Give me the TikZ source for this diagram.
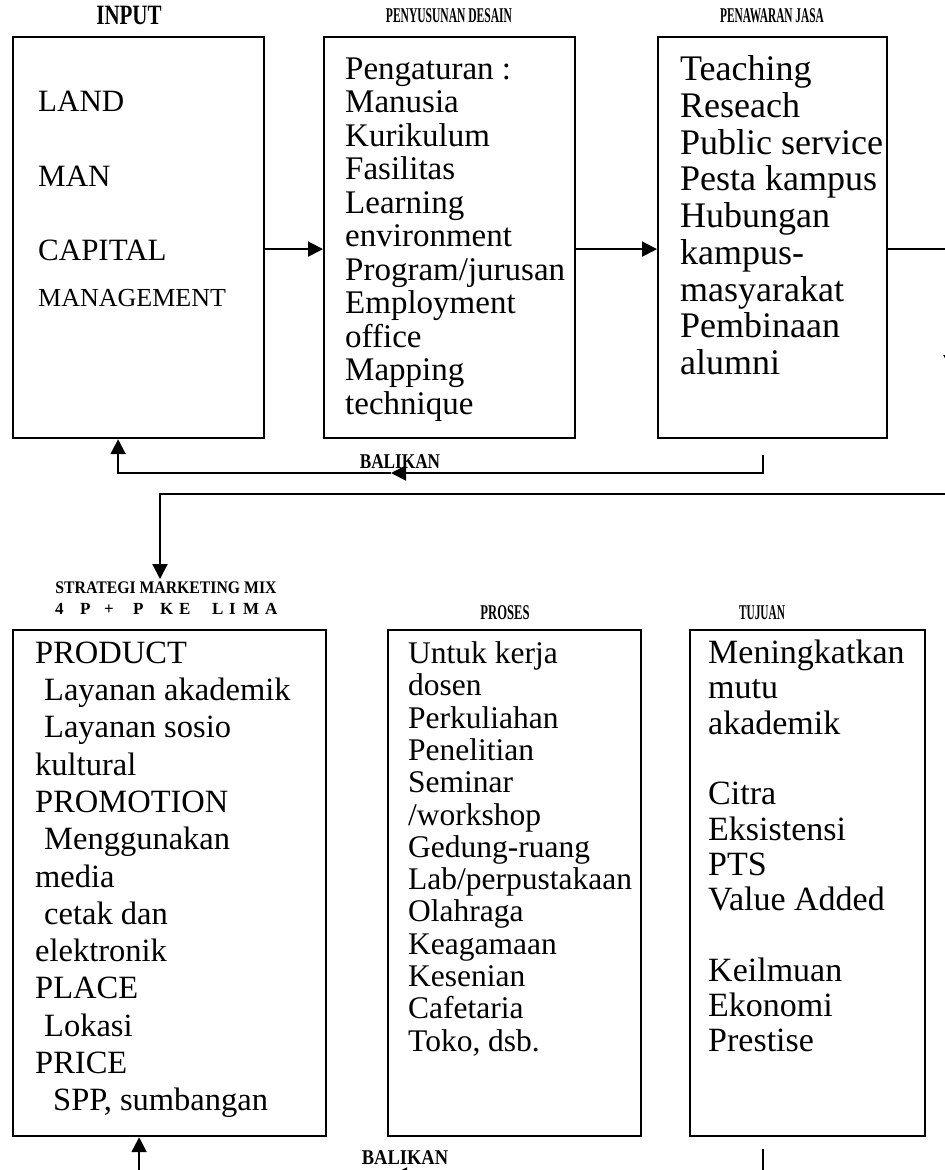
\documentclass[tikz,border=0pt]{standalone}
\usepackage{fontspec}
\setmainfont{Liberation Serif}
\usetikzlibrary{arrows.meta}

\begin{document}
\begin{tikzpicture}[
    x=1pt, y=-1pt,
    frame/.style={draw, line width=2.2pt, anchor=north west, inner sep=0pt},
    list/.style={anchor=north west, inner sep=0pt, align=left},
    title/.style={inner sep=0pt, font=\bfseries\fontsize{21}{21}\selectfont},
    arrow/.style={-{Triangle[length=15pt, width=15pt]}, line width=2pt}
]
    \useasboundingbox (0,0) rectangle (945,1170);
    \clip (0,0) rectangle (945,1170);

    % Top row
    \node[title, font=\bfseries\fontsize{28}{28}\selectfont] (inputtitle) at (129,15) {\scalebox{0.75}[1]{INPUT}};
    \node[title] (desaintitle) at (449,16) {\scalebox{0.55}[1]{PENYUSUNAN DESAIN}};
    \node[title] (jasatitle) at (772,16) {\scalebox{0.54}[1]{PENAWARAN JASA}};

    \node[frame, minimum width=251pt, minimum height=401pt] (input) at (12,36) {};
    \node[frame, minimum width=251pt, minimum height=401pt] (desain) at (323,36) {};
    \node[frame, minimum width=229pt, minimum height=401pt] (jasa) at (657,36) {};

    \node[list, font=\fontsize{31}{31}\selectfont] (inputlist) at ([shift={(26pt,-54.5pt)}]input.north west)
        {LAND\\[44pt]MAN\\[43pt]CAPITAL\\[15pt]{\fontsize{26}{31}\selectfont MANAGEMENT}};
    \node[list, font=\fontsize{33}{33.5}\selectfont] (desainlist) at ([shift={(22pt,-21.2pt)}]desain.north west)
        {Pengaturan :\\Manusia\\Kurikulum\\Fasilitas\\Learning\\environment\\Program/jurusan\\Employment\\office\\Mapping\\technique};
    \node[list, font=\fontsize{36}{36.75}\selectfont] (jasalist) at ([shift={(23pt,-19.4pt)}]jasa.north west)
        {Teaching\\Reseach\\Public service\\Pesta kampus\\Hubungan\\kampus-\\masyarakat\\Pembinaan\\alumni};

    % Bottom row
    \node[title, font=\bfseries\fontsize{17.7}{17.7}\selectfont] (mixtitle) at (166,587.5) {\scalebox{0.89}[1]{STRATEGI MARKETING MIX}};
    \node[title, anchor=west, font=\bfseries\fontsize{17}{17}\selectfont] (mixsub) at (55,609)
        {\makebox[25pt][l]{4}\makebox[24pt][l]{P}\makebox[29pt][l]{+}\makebox[27pt][l]{P}\makebox[19pt][l]{K}\makebox[33pt][l]{E}\makebox[17pt][l]{L}\makebox[14pt][l]{I}\makebox[22pt][l]{M}A};
    \node[title] (prosestitle) at (505,613) {\scalebox{0.6}[1]{PROSES}};
    \node[title] (tujuantitle) at (762,613) {\scalebox{0.54}[1]{TUJUAN}};

    \node[frame, minimum width=313pt, minimum height=506pt] (mix) at (12,629) {};
    \node[frame, minimum width=253pt, minimum height=506pt] (proses) at (387,629) {};
    \node[frame, minimum width=235pt, minimum height=506pt] (tujuan) at (689,629) {};

    \node[list, font=\fontsize{32.5}{37.3}\selectfont] (mixlist) at ([shift={(23pt,-12.5pt)}]mix.north west)
        {PRODUCT\\\hspace*{9pt}Layanan akademik\\\hspace*{9pt}Layanan sosio\\kultural\\PROMOTION\\\hspace*{9pt}Menggunakan\\media\\\hspace*{9pt}cetak dan\\elektronik\\PLACE\\\hspace*{9pt}Lokasi\\PRICE\\\hspace*{18pt}SPP, sumbangan};
    \node[list, font=\fontsize{31.5}{32.3}\selectfont] (proseslist) at ([shift={(21pt,-12.5pt)}]proses.north west)
        {Untuk kerja\\dosen\\Perkuliahan\\Penelitian\\Seminar\\/workshop\\Gedung-ruang\\Lab/perpustakaan\\Olahraga\\Keagamaan\\Kesenian\\Cafetaria\\Toko, dsb.};
    \node[list, font=\fontsize{34}{35.3}\selectfont] (tujuanlist) at ([shift={(19pt,-10.8pt)}]tujuan.north west)
        {Meningkatkan\\mutu\\akademik\\[35.3pt]Citra\\Eksistensi\\PTS\\Value Added\\[35.3pt]Keilmuan\\Ekonomi\\Prestise};

    % Arrows along the top
    \draw[arrow] ([yshift=-11.5pt]input.east) -- ([yshift=-11.5pt]input.east -| desain.west);
    \draw[arrow] ([yshift=-11.5pt]desain.east) -- ([yshift=-11.5pt]desain.east -| jasa.west);
    \coordinate (offdown) at (951,370);
    \draw[arrow] ([yshift=-11.5pt]jasa.east) -| (offdown);

    % Feedback (top)
    \coordinate (fbtop) at (763,455);
    \coordinate (fbmid) at (391,473);
    \draw[arrow] (fbtop) |- (fbmid);
    \draw[arrow] (fbmid) -| ([xshift=-20.5pt]input.south);
    \node[title] (balikantop) at (400,462) {\scalebox{0.82}[1]{BALIKAN}};

    % Return to marketing mix
    \coordinate (offback) at (960,494);
    \coordinate (mixin) at (160,579);
    \draw[arrow] (offback) -| (mixin);

    % Feedback (bottom)
    \coordinate (fbbot) at (763,1149);
    \coordinate (fbmid2) at (392,1175);
    \draw[arrow] (fbbot) |- (fbmid2);
    \draw[arrow] (fbmid2) -| ([xshift=-30.5pt]mix.south);
    \node[title] (balikanbot) at (405,1158) {\scalebox{0.88}[1]{BALIKAN}};
\end{tikzpicture}
\end{document}
